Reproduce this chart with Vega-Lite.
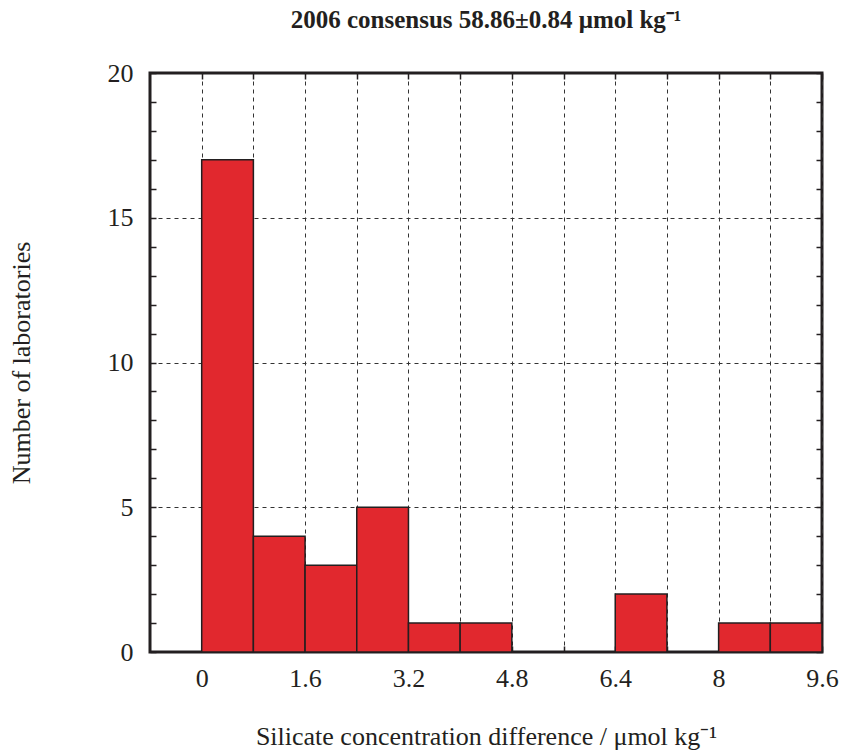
{
  "$schema": "https://vega.github.io/schema/vega-lite/v6.json",
  "width": 672,
  "height": 579,
  "autosize": {"type": "none"},
  "padding": {"left": 150, "top": 73, "right": 21, "bottom": 102},
  "background": "white",
  "title": {
    "text": "2006 consensus 58.86±0.84 μmol kg⁻¹",
    "font": "Liberation Serif",
    "fontSize": 25,
    "fontWeight": "bold",
    "color": "#231f20",
    "anchor": "middle",
    "baseline": "alphabetic",
    "offset": 7
  },
  "config": {
    "view": {"stroke": "#231f20", "strokeWidth": 3},
    "font": "Liberation Serif"
  },
  "data": {
    "values": [
      {"lo": 0.0, "hi": 0.8, "n": 17},
      {"lo": 0.8, "hi": 1.6, "n": 4},
      {"lo": 1.6, "hi": 2.4, "n": 3},
      {"lo": 2.4, "hi": 3.2, "n": 5},
      {"lo": 3.2, "hi": 4.0, "n": 1},
      {"lo": 4.0, "hi": 4.8, "n": 1},
      {"lo": 4.8, "hi": 5.6, "n": 0},
      {"lo": 5.6, "hi": 6.4, "n": 0},
      {"lo": 6.4, "hi": 7.2, "n": 2},
      {"lo": 7.2, "hi": 8.0, "n": 0},
      {"lo": 8.0, "hi": 8.8, "n": 1},
      {"lo": 8.8, "hi": 9.6, "n": 1}
    ]
  },
  "layer": [
    {
      "mark": {"type": "rect", "fill": "#e1282e", "stroke": "#231f20", "strokeWidth": 1.5},
      "encoding": {
        "x": {
          "field": "lo",
          "type": "quantitative",
          "scale": {"domain": [-0.8, 9.6], "nice": false, "zero": false},
          "axis": {
            "orient": "bottom",
            "title": "Silicate concentration difference /  μmol kg⁻¹",
            "values": [0, 0.8, 1.6, 2.4, 3.2, 4, 4.8, 5.6, 6.4, 7.2, 8, 8.8, 9.6],
            "labelExpr": "(round(datum.value*10) % 16 == 0) ? format(datum.value, '~g') : ''",
            "domain": false,
            "grid": true,
            "gridDash": [4, 4],
            "gridColor": "#333333",
            "gridWidth": 1,
            "tickSize": -6,
            "tickColor": "#231f20",
            "tickWidth": 1.5,
            "labelFont": "Liberation Serif",
            "labelFontSize": 26,
            "labelColor": "#231f20",
            "labelPadding": 19,
            "labelFlush": false,
            "labelOverlap": false,
            "titleFont": "Liberation Serif",
            "titleFontSize": 26,
            "titleFontWeight": "normal",
            "titleColor": "#231f20",
            "titlePadding": 32
          }
        },
        "x2": {"field": "hi"},
        "y": {
          "field": "n",
          "type": "quantitative",
          "scale": {"domain": [0, 20], "nice": false},
          "axis": {
            "orient": "left",
            "title": "Number of laboratories",
            "values": [0, 1, 2, 3, 4, 5, 6, 7, 8, 9, 10, 11, 12, 13, 14, 15, 16, 17, 18, 19, 20],
            "labelExpr": "datum.value % 5 == 0 ? format(datum.value, 'd') : ''",
            "domain": false,
            "grid": true,
            "gridDash": [4, 4],
            "gridColor": "#333333",
            "gridWidth": 1,
            "gridOpacity": {"condition": {"test": "datum.value % 5 == 0 && datum.value > 0 && datum.value < 20", "value": 1}, "value": 0},
            "tickSize": -6,
            "tickColor": "#231f20",
            "tickWidth": 1.5,
            "labelFont": "Liberation Serif",
            "labelFontSize": 26,
            "labelColor": "#231f20",
            "labelPadding": 23,
            "labelFlush": false,
            "labelOverlap": false,
            "titleFont": "Liberation Serif",
            "titleFontSize": 26,
            "titleFontWeight": "normal",
            "titleColor": "#231f20",
            "titlePadding": 73
          }
        },
        "y2": {"datum": 0}
      }
    },
    {
      "mark": {"type": "rect", "opacity": 0},
      "encoding": {
        "x": {
          "field": "lo",
          "type": "quantitative",
          "axis": {
            "orient": "top",
            "title": null,
            "values": [0, 0.8, 1.6, 2.4, 3.2, 4, 4.8, 5.6, 6.4, 7.2, 8, 8.8, 9.6],
            "labels": false,
            "domain": false,
            "grid": false,
            "tickSize": -6,
            "tickColor": "#231f20",
            "tickWidth": 1.5
          }
        },
        "x2": {"field": "hi"},
        "y": {
          "field": "n",
          "type": "quantitative",
          "axis": {
            "orient": "right",
            "title": null,
            "values": [0, 1, 2, 3, 4, 5, 6, 7, 8, 9, 10, 11, 12, 13, 14, 15, 16, 17, 18, 19, 20],
            "labels": false,
            "domain": false,
            "grid": false,
            "tickSize": -6,
            "tickColor": "#231f20",
            "tickWidth": 1.5
          }
        },
        "y2": {"datum": 0}
      }
    }
  ]
}
